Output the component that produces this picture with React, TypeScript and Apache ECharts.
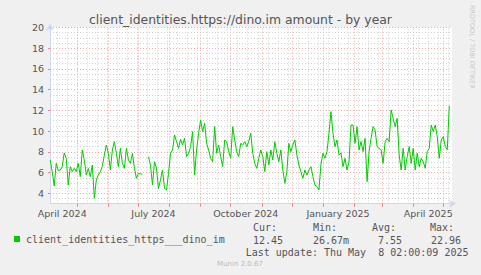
import React, { useEffect, useRef } from "react";
import * as echarts from "echarts";

// ---- data (days counted from 2024-04-01) ----
const TITLE = "client_identities.https://dino.im amount - by year";
const SERIES_NAME = "client_identities_https___dino_im";
const FIRST_DAY = 3;
const STEP_DAYS = 2;
const values: (number | null)[] = [
  7.2, 6.09, 4.71, 6.89, 6.2, 6.25, 6.57, 7.9, 7.38, 4.8,
  6.57, 6.09, 6.41, 6.09, 6.89, 5.61, 8.18, 7.22, 5.77, 6.41,
  5.61, 6.73, 3.52, 5.29, 5.77, 6.09, 6.6, 7.7, 8.66, 7.86,
  6.25, 8.18, 8.98, 7.86, 6.57, 8.34, 6.89, 6.41, 8.34, 7.22,
  6.89, 7.86, 6.41, 5.45, 5.93, 5.86, 5.86, null, null, 7.54,
  6.73, 4.8, 7.05, 6.41, 4.48, 5.29, 6.25, 4.48, 4.32, 5.93,
  7.86, 8.18, 9.63, 8.98, 8.34, 9.21, 8.66, 9.31, 7.54, 7.86,
  8.5, 9.95, 5.77, 8.18, 9.79, 11.07, 9.95, 10.75, 8.82, 8.18,
  7.38, 7.05, 10.43, 7.86, 8.66, 7.54, 6.57, 9.14, 8.98, 8.02,
  7.38, 10.43, 9.14, 8.02, 7.54, 8.82, 8.66, 8.98, 8.5, 8.98,
  9.79, 7.86, 6.89, 6.41, 7.38, 8.18, 7.54, 6.09, 8.02, 6.73,
  8.18, 7.22, 8.98, 7.86, 7.05, 8.18, 6.25, 4.96, 6.09, 8.82,
  8.02, 8.66, 9.14, 7.7, 6.73, 6.09, 5.45, 6.25, 5.77, 6.25,
  6.57, 5.61, 4.8, 4.64, 4.32, 6.8, 7.86, 7.38, 8.02, 9.79,
  11.88, 9.8, 8.5, 9.14, 7.7, 7.9, 6.57, 7.38, 6.25, 7.05,
  10.59, 10.59, 8.82, 10.43, 8.18, 9.0, 8.02, 9.31, 5.13, 8.0,
  9.31, 10.43, 10.11, 8.5, 8.34, 8.2, 6.89, 8.98, 9.31, 8.98,
  12.04, 11.23, 10.43, 11.23, 7.7, 6.25, 8.34, 6.25, 7.54, 8.5,
  6.89, 8.34, 6.25, 7.86, 6.57, 7.38, 7.05, 6.41, 8.02, 8.34,
  10.59, 9.95, 10.59, 9.47, 7.38, 9.14, 9.47, 8.5, 8.2, 12.45,
];
const monthStartDays = [30, 61, 91, 122, 153, 183, 214, 244, 275, 306, 334, 365, 395];
const monthLabelDays = [15, 106, 198, 290, 380];
const monthLabelTexts = ["April 2024", "July 2024", "October 2024", "January 2025", "April 2025"];
const yTickValues = [4, 6, 8, 10, 12, 14, 16, 18, 20];
const statHeaders = ["Cur:", "Min:", "Avg:", "Max:"];
const statValues = ["12.45", "26.67m", "7.55", "22.96"];
const LAST_UPDATE = "Last update: Thu May  8 02:00:09 2025";
const VERSION = "Munin 2.0.67";
const WATERMARK = "RRDTOOL / TOBI OETIKER";

export default function App() {
  const ref = useRef<HTMLDivElement>(null);
  useEffect(() => {
    const chart = echarts.init(ref.current!, null, { renderer: "svg" });
    const data = values.map((v, i) => [FIRST_DAY + i * STEP_DAYS, v]);
    const minorX: number[] = [];
    for (let d = 10; d <= 400; d += 10) minorX.push(d);
    const minorY: number[] = [];
    for (let v = 3.5; v < 20; v += 0.5) if (!(Number.isInteger(v) && v % 2 === 0)) minorY.push(v);

    const mono = "DejaVu Sans Mono";
    const sans = "DejaVu Sans";
    const fontColor = "#555";
    const axisColor = "#CFD6F8";
    const statX = [253, 313, 372, 430];
    const valX = [253, 313, 378, 431];

    const graphics: any[] = [
      {
        type: "text", x: 240.5, y: 19,
        style: { text: TITLE, fontFamily: sans, fontSize: 12.4, fill: fontColor, align: "center", verticalAlign: "middle" },
      },
      {
        type: "text", x: 472, y: 5, rotation: -Math.PI / 2,
        style: { text: WATERMARK, fontFamily: sans, fontSize: 6.5, fill: "#c8c8c8", align: "left", verticalAlign: "middle" },
      },
      {
        type: "text", x: 245.7, y: 252,
        style: { text: LAST_UPDATE, fontFamily: mono, fontSize: 10, fill: fontColor, align: "left", verticalAlign: "middle" },
      },
      {
        type: "text", x: 240, y: 263.5,
        style: { text: VERSION, fontFamily: sans, fontSize: 7, fill: "#bbbbbb", align: "center", verticalAlign: "middle" },
      },
    ];
    statHeaders.forEach((h, i) =>
      graphics.push({
        type: "text", x: statX[i], y: 227.5,
        style: { text: h, fontFamily: mono, fontSize: 10, fill: fontColor, align: "left", verticalAlign: "middle" },
      })
    );
    statValues.forEach((h, i) =>
      graphics.push({
        type: "text", x: valX[i], y: 240,
        style: { text: h, fontFamily: mono, fontSize: 10, fill: fontColor, align: "left", verticalAlign: "middle" },
      })
    );

    const option: any = {
      animation: false,
      backgroundColor: "#f0f0f0",
      grid: { left: 50, right: 29, top: 27.4, bottom: 71.3, show: true, backgroundColor: "#ffffff", borderWidth: 0 },
      legend: {
        data: [SERIES_NAME], left: 14, top: 234, padding: 0, icon: "rect", itemWidth: 6, itemHeight: 6,
        textStyle: { fontFamily: mono, fontSize: 10, color: fontColor, padding: [0, 0, 0, 1] },
      },
      xAxis: {
        type: "value", min: 2.8, max: 403.7,
        axisLine: { show: true, lineStyle: { color: axisColor, width: 1 }, symbol: ["none", "arrow"], symbolSize: [6, 7], symbolOffset: [0, 4] },
        axisTick: { show: true, customValues: monthStartDays, length: 3, lineStyle: { color: "#f08080" } },
        axisLabel: {
          customValues: monthLabelDays, margin: 5, fontFamily: sans, fontSize: 9.5, color: fontColor,
          formatter: (v: number) => { const i = monthLabelDays.indexOf(v); return i >= 0 ? monthLabelTexts[i] : ""; },
        },
        splitLine: { show: false },
      },
      yAxis: {
        type: "value", min: 3, max: 20,
        axisLine: { show: true, lineStyle: { color: axisColor, width: 1 }, symbol: ["none", "arrow"], symbolSize: [6, 7], symbolOffset: [0, 4] },
        axisTick: { show: true, customValues: yTickValues, length: 2, lineStyle: { color: "#f08080" } },
        axisLabel: { customValues: yTickValues, margin: 6, fontFamily: sans, fontSize: 9.5, color: fontColor },
        splitLine: { show: false },
      },
      series: [
        {
          type: "line", name: "minor-grid", data: [], silent: true,
          markLine: {
            silent: true, symbol: ["none", "none"], z: 1, label: { show: false },
            lineStyle: { color: "#d2d2d2", type: [1, 2], width: 1 },
            data: [...minorX.map((x) => ({ xAxis: x })), ...minorY.map((y) => ({ yAxis: y }))],
          },
        },
        {
          type: "line", name: "major-grid", data: [], silent: true,
          markLine: {
            silent: true, symbol: ["none", "none"], z: 1, label: { show: false },
            lineStyle: { color: "#efaaaa", type: [1, 2], width: 1 },
            data: [...monthStartDays.map((x) => ({ xAxis: x })), ...yTickValues.map((y) => ({ yAxis: y }))],
          },
        },
        {
          type: "line", name: SERIES_NAME, data, showSymbol: false, symbol: "none", z: 3,
          lineStyle: { color: "#00cc00", width: 1 }, itemStyle: { color: "#00cc00" },
          connectNulls: false,
        },
      ],
      graphic: graphics,
    };
    chart.setOption(option);
    return () => chart.dispose();
  }, []);
  return <div ref={ref} style={{ position: "fixed", left: 0, top: 0, width: 481, height: 275 }} />;
}
